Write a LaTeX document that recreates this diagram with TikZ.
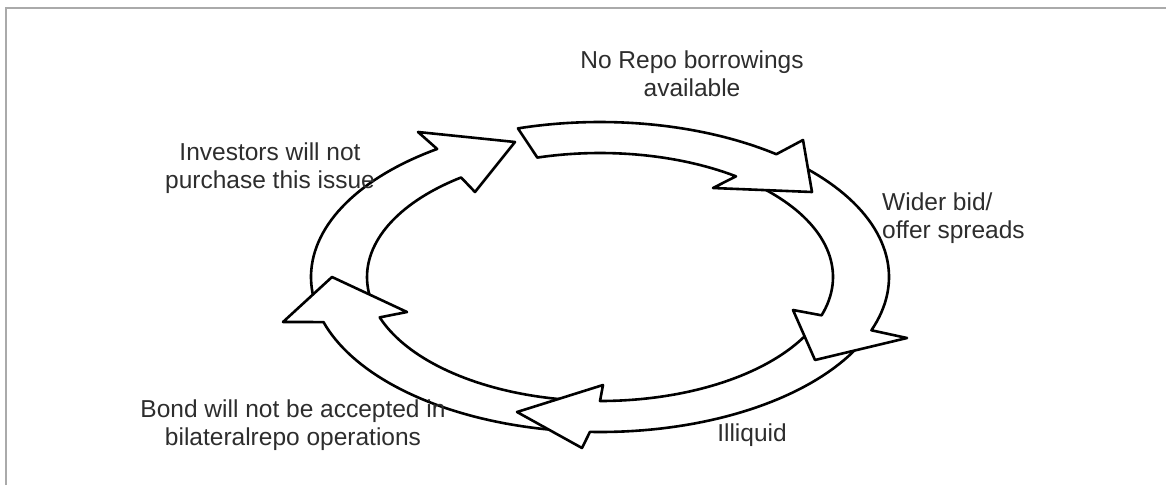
\documentclass[tikz,border=0pt]{standalone}
\usepackage{fontspec}
\setmainfont{Liberation Sans}
\usepackage{tikz}

\definecolor{txtgray}{RGB}{45,45,45}
\definecolor{edgegray}{RGB}{170,170,170}

\tikzset{
    ringarrow/.style={draw=black, fill=white, line width=2.6pt, line join=round},
    cycletext/.style={font=\fontsize{24.5}{28}\selectfont, text=txtgray, align=center, inner sep=0pt},
    framegray/.style={draw=edgegray, line width=1.4pt}
}

\begin{document}
\begin{tikzpicture}[x=1pt, y=-1pt]

    \useasboundingbox (0,0) rectangle (1166,485);
    \draw[framegray] (6,485) -- (6,8) -- (1166,8);

    % ring: outer ellipse 289 x 155, inner ellipse 233 x 124, both round (600,277)
    % each head is drawn over the tail of the next arrow
    \begin{scope}[shift={(600,277)}, samples=40]
    \draw[ringarrow] plot[domain=169:235.7] ({289*cos(\x)},{155*sin(\x)})
        -- (-182,-145) -- (-85,-135) -- (-125,-85)
        -- plot[domain=233.4:168] ({233*cos(\x)},{124*sin(\x)}) -- cycle;
    \draw[ringarrow] plot[domain=95:163.1] ({289*cos(\x)},{155*sin(\x)})
        -- (-317,45) -- (-268,0) -- (-193,35)
        -- plot[domain=161:95] ({233*cos(\x)},{124*sin(\x)}) -- cycle;
    \draw[ringarrow] plot[domain=24:92] ({289*cos(\x)},{155*sin(\x)})
        -- (-18,171) -- (-83,135) -- (3,108)
        -- plot[domain=90:25] ({233*cos(\x)},{124*sin(\x)}) -- cycle;
    \draw[ringarrow] plot[domain=-48:20.1] ({289*cos(\x)},{155*sin(\x)})
        -- (307,61) -- (215,83) -- (193,33)
        -- plot[domain=18:-50] ({233*cos(\x)},{124*sin(\x)}) -- cycle;
    \draw[ringarrow] plot[domain=-106.5:-52.4] ({289*cos(\x)},{155*sin(\x)})
        -- (203,-137) -- (212,-85) -- (113,-89)
        -- plot[domain=-54.3:-105.6] ({233*cos(\x)},{124*sin(\x)}) -- cycle;
    \end{scope}

    \node[cycletext] (norepo) at (692,74) {No Repo borrowings\\available};
    \node[cycletext] (investors) at (270,168) {Investors will not\\purchase this issue};
    \node[cycletext, align=left, anchor=west] (wider) at (882,218) {Wider bid/\\offer spreads};
    \node[cycletext] (bond) at (293,425) {Bond will not be accepted in\\bilateralrepo operations};
    \node[cycletext] (illiquid) at (752,435) {Illiquid};

\end{tikzpicture}
\end{document}
